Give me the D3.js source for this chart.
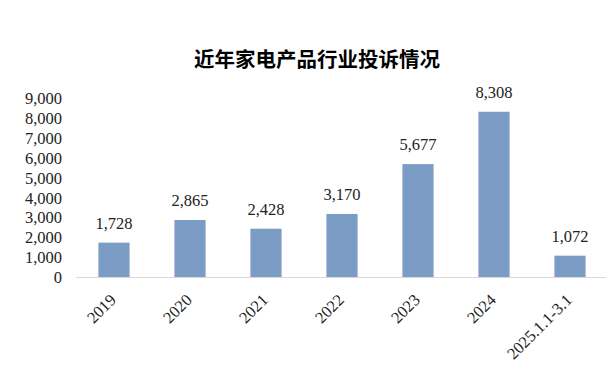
<!DOCTYPE html>
<html><head><meta charset="utf-8">
<script src="https://cdn.jsdelivr.net/npm/d3@7"></script>
<style>body{margin:0;background:#fff}svg{display:block}</style>
</head><body>
<script>
const categories = ["2019","2020","2021","2022","2023","2024","2025.1.1-3.1"];
const values = [1728, 2865, 2428, 3170, 5677, 8308, 1072];
const yTicks = [0,1000,2000,3000,4000,5000,6000,7000,8000,9000];
const title = "近年家电产品行业投诉情况";

const W = 607, H = 381;
const svg = d3.select("body").append("svg").attr("width", W).attr("height", H);
const fmt = d3.format(",");
const serif = "'Liberation Serif','Times New Roman',serif";

const x = d3.scaleBand().domain(categories).range([76, 608]).paddingInner(0.59).paddingOuter(0.295);
const y = d3.scaleLinear().domain([0, 9000]).range([277, 98]);

svg.append("text").attr("x", 317).attr("y", 67).attr("text-anchor", "middle")
  .attr("font-family", "'Noto Sans CJK SC'").attr("font-weight", "bold").attr("font-size", 20.5)
  .attr("fill", "#000").text(title);

// y axis
const ya = svg.append("g").attr("transform", "translate(66,0)")
  .call(d3.axisLeft(y).tickValues(yTicks).tickFormat(fmt).tickSize(0).tickPadding(4));
ya.select(".domain").remove();
ya.selectAll("text").attr("font-family", serif).attr("font-size", 16.5).attr("fill", "#222").attr("dy", "0.34em");

// baseline
svg.append("line").attr("x1", 76).attr("x2", 606).attr("y1", y(0)+0.5).attr("y2", y(0)+0.5)
  .attr("stroke", "#d9d9d9").attr("stroke-width", 1);

svg.selectAll("rect.bar").data(values).join("rect").attr("class","bar")
  .attr("x", (d,i) => x(categories[i])).attr("width", x.bandwidth())
  .attr("y", d => y(d)).attr("height", d => y(0) - y(d)).attr("fill", "#7b9cc5");

svg.selectAll("text.val").data(values).join("text").attr("class","val")
  .attr("x", (d,i) => x(categories[i]) + x.bandwidth()/2).attr("y", d => y(d) - 14)
  .attr("text-anchor", "middle").attr("font-family", serif).attr("font-size", 16.5).attr("fill", "#222")
  .text(d => fmt(d));

// x labels
const xa = svg.append("g").attr("transform", `translate(0,${y(0)})`)
  .call(d3.axisBottom(x).tickSize(0).tickPadding(0));
xa.select(".domain").remove();
xa.selectAll("text").attr("font-family", serif).attr("font-size", 16.5).attr("fill", "#222")
  .attr("text-anchor", "end").attr("dy", null)
  .attr("transform", "translate(3,24) rotate(-45)");
</script>
</body></html>
